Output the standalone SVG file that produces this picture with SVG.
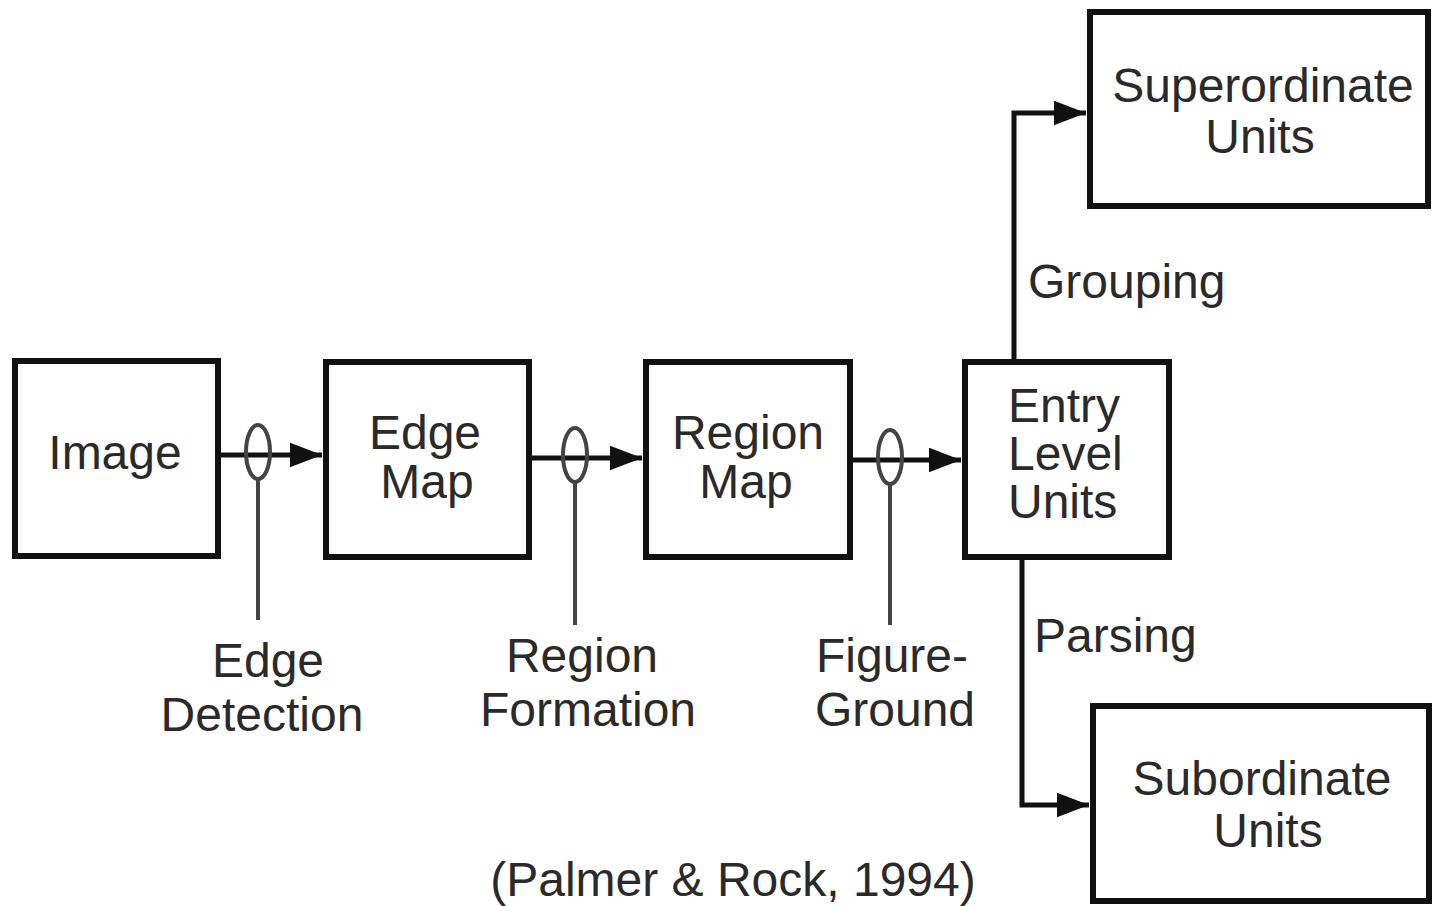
<svg xmlns="http://www.w3.org/2000/svg" width="1432" height="906" viewBox="0 0 1432 906">
<style>
.box{fill:#fff;stroke:#111;stroke-width:6}
.ln{fill:none;stroke:#111;stroke-width:5}
.thin{fill:none;stroke:#444;stroke-width:4}
text{font-family:"Liberation Sans",Arial,sans-serif;font-size:48px;fill:#2a2a2a}
.c{text-anchor:middle}
</style>
<defs>
<marker id="ah" markerWidth="6.5" markerHeight="5" refX="6.5" refY="2.5" orient="auto" markerUnits="strokeWidth">
<path d="M0,0 L6.5,2.5 L0,5 Z" fill="#111"/>
</marker>
</defs>
<rect width="1432" height="906" fill="#fff"/>
<g id="connectors">
<line class="ln" x1="220" y1="455" x2="322" y2="455" marker-end="url(#ah)"/>
<ellipse class="thin" cx="258" cy="452" rx="12" ry="27"/>
<line class="thin" x1="258" y1="479" x2="258" y2="620"/>
<line class="ln" x1="530" y1="458" x2="642" y2="458" marker-end="url(#ah)"/>
<ellipse class="thin" cx="575" cy="455" rx="12" ry="27"/>
<line class="thin" x1="575" y1="482" x2="575" y2="625"/>
<line class="ln" x1="851" y1="460" x2="961" y2="460" marker-end="url(#ah)"/>
<ellipse class="thin" cx="890" cy="457" rx="12" ry="27"/>
<line class="thin" x1="890" y1="484" x2="890" y2="625"/>
<polyline class="ln" points="1014,360 1014,113 1086,113" marker-end="url(#ah)"/>
<polyline class="ln" points="1022,558 1022,805 1089,805" marker-end="url(#ah)"/>
</g>
<g id="image"><rect class="box" x="15" y="361" width="203" height="195"/><text class="c" x="115" y="469">Image</text></g>
<g id="edge-map"><rect class="box" x="326" y="362" width="203" height="195"/><text class="c" x="425" y="449">Edge</text><text class="c" x="427" y="498">Map</text></g>
<g id="region-map"><rect class="box" x="646" y="362" width="204" height="195"/><text class="c" x="748" y="449">Region</text><text class="c" x="746" y="498">Map</text></g>
<g id="entry-level-units"><rect class="box" x="965" y="362" width="204" height="195"/><text x="1008" y="422">Entry</text><text x="1008" y="470">Level</text><text x="1008" y="518">Units</text></g>
<g id="superordinate-units"><rect class="box" x="1090" y="12" width="338" height="194"/><text class="c" x="1263" y="102">Superordinate</text><text class="c" x="1260" y="153">Units</text></g>
<g id="subordinate-units"><rect class="box" x="1093" y="706" width="336" height="195"/><text class="c" x="1262" y="795">Subordinate</text><text class="c" x="1268" y="847">Units</text></g>
<g id="labels">
<text x="1028" y="298">Grouping</text>
<text x="1034" y="652">Parsing</text>
<text class="c" x="268" y="677">Edge</text><text class="c" x="262" y="731">Detection</text>
<text class="c" x="582" y="672">Region</text><text class="c" x="588" y="726">Formation</text>
<text class="c" x="892" y="672">Figure-</text><text class="c" x="895" y="726">Ground</text>
<text class="c" x="733" y="896">(Palmer &amp; Rock, 1994)</text>
</g>
</svg>
